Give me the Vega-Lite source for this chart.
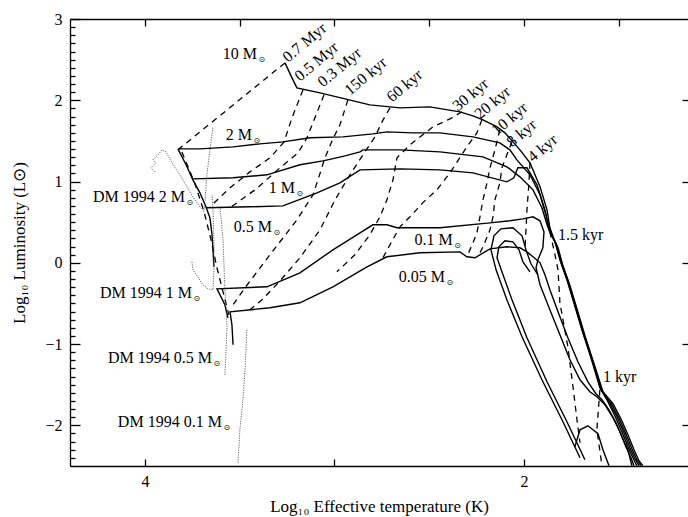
{
"$schema":"https://vega.github.io/schema/vega-lite/v6.json",
"width":618,"height":447,
"autosize":{"type":"none"},
"padding":{"left":70,"top":19,"right":0,"bottom":51},
"background":"white",
"config":{"view":{"stroke":null},"font":"Liberation Serif",
 "axis":{"grid":false,"domainColor":"black","domainWidth":1.3,"tickColor":"black","tickWidth":1.3,"labelFont":"Liberation Serif","labelFontSize":16,"labelColor":"black","titleFont":"Liberation Serif","titleFontSize":17,"titleFontWeight":"normal","titleColor":"black","labelOverlap":false,"labelBound":false,"labelFlush":false}},
"datasets":{
"tracks":[
{"s":"10M","x":3.261,"y":2.460},{"s":"10M","x":3.224,"y":2.276},{"s":"10M","x":3.198,"y":2.153},{"s":"10M","x":3.076,"y":2.091},{"s":"10M","x":2.944,"y":2.017},{"s":"10M","x":2.813,"y":1.944},{"s":"10M","x":2.654,"y":1.907},{"s":"10M","x":2.496,"y":1.919},{"s":"10M","x":2.338,"y":1.858},{"s":"10M","x":2.269,"y":1.808},{"s":"10M","x":2.216,"y":1.759},{"s":"10M","x":2.142,"y":1.673},{"s":"10M","x":2.100,"y":1.599},{"s":"10M","x":2.021,"y":1.390},{"s":"10M","x":1.968,"y":1.230},{"s":"10M","x":1.915,"y":0.935},{"s":"10M","x":1.878,"y":0.652},{"s":"10M","x":1.863,"y":0.431},{"s":"10M","x":1.836,"y":0.258},{"s":"10M","x":1.810,"y":0.037},{"s":"10M","x":1.773,"y":-0.209},{"s":"10M","x":1.741,"y":-0.455},{"s":"10M","x":1.694,"y":-0.824},{"s":"10M","x":1.646,"y":-1.168},{"s":"10M","x":1.599,"y":-1.537},{"s":"10M","x":1.562,"y":-1.685},{"s":"10M","x":1.520,"y":-1.882},{"s":"10M","x":1.483,"y":-2.079},{"s":"10M","x":1.451,"y":-2.263},{"s":"10M","x":1.425,"y":-2.398},{"s":"10M","x":1.404,"y":-2.497},
{"s":"2M","x":3.826,"y":1.402},{"s":"2M","x":3.710,"y":1.402},{"s":"2M","x":3.535,"y":1.427},{"s":"2M","x":3.393,"y":1.464},{"s":"2M","x":3.272,"y":1.488},{"s":"2M","x":3.129,"y":1.538},{"s":"2M","x":2.955,"y":1.550},{"s":"2M","x":2.797,"y":1.587},{"s":"2M","x":2.723,"y":1.611},{"s":"2M","x":2.586,"y":1.599},{"s":"2M","x":2.443,"y":1.599},{"s":"2M","x":2.269,"y":1.550},{"s":"2M","x":2.127,"y":1.476},{"s":"2M","x":2.074,"y":1.390},{"s":"2M","x":2.037,"y":1.267},{"s":"2M","x":1.968,"y":1.083},{"s":"2M","x":1.915,"y":0.837},{"s":"2M","x":1.884,"y":0.591},{"s":"2M","x":1.868,"y":0.406},{"s":"2M","x":1.831,"y":0.234},{"s":"2M","x":1.805,"y":0.012},{"s":"2M","x":1.768,"y":-0.234},{"s":"2M","x":1.736,"y":-0.480},{"s":"2M","x":1.689,"y":-0.849},{"s":"2M","x":1.641,"y":-1.193},{"s":"2M","x":1.593,"y":-1.562},{"s":"2M","x":1.551,"y":-1.710},{"s":"2M","x":1.509,"y":-1.894},{"s":"2M","x":1.472,"y":-2.091},{"s":"2M","x":1.441,"y":-2.275},{"s":"2M","x":1.414,"y":-2.411},{"s":"2M","x":1.393,"y":-2.497},
{"s":"1M","x":3.747,"y":1.033},{"s":"1M","x":3.535,"y":1.046},{"s":"1M","x":3.356,"y":1.083},{"s":"1M","x":3.182,"y":1.206},{"s":"1M","x":3.060,"y":1.255},{"s":"1M","x":2.944,"y":1.316},{"s":"1M","x":2.865,"y":1.365},{"s":"1M","x":2.849,"y":1.390},{"s":"1M","x":2.654,"y":1.390},{"s":"1M","x":2.443,"y":1.365},{"s":"1M","x":2.216,"y":1.304},{"s":"1M","x":2.090,"y":1.181},{"s":"1M","x":2.021,"y":1.058},{"s":"1M","x":1.952,"y":0.898},{"s":"1M","x":1.905,"y":0.677},{"s":"1M","x":1.878,"y":0.468},{"s":"1M","x":1.863,"y":0.381},{"s":"1M","x":1.826,"y":0.209},{"s":"1M","x":1.799,"y":-0.012},{"s":"1M","x":1.762,"y":-0.258},{"s":"1M","x":1.731,"y":-0.504},{"s":"1M","x":1.683,"y":-0.873},{"s":"1M","x":1.636,"y":-1.218},{"s":"1M","x":1.588,"y":-1.574},{"s":"1M","x":1.541,"y":-1.722},{"s":"1M","x":1.499,"y":-1.906},{"s":"1M","x":1.462,"y":-2.103},{"s":"1M","x":1.430,"y":-2.288},{"s":"1M","x":1.404,"y":-2.423},{"s":"1M","x":1.383,"y":-2.497},
{"s":"05M","x":3.673,"y":0.677},{"s":"05M","x":3.446,"y":0.689},{"s":"05M","x":3.272,"y":0.701},{"s":"05M","x":3.092,"y":0.861},{"s":"05M","x":2.971,"y":0.984},{"s":"05M","x":2.865,"y":1.144},{"s":"05M","x":2.654,"y":1.156},{"s":"05M","x":2.443,"y":1.144},{"s":"05M","x":2.269,"y":1.107},{"s":"05M","x":2.090,"y":0.996},{"s":"05M","x":2.053,"y":1.046},{"s":"05M","x":2.032,"y":1.169},{"s":"05M","x":1.984,"y":1.169},{"s":"05M","x":1.931,"y":0.960},{"s":"05M","x":1.889,"y":0.652},{"s":"05M","x":1.868,"y":0.431},{"s":"05M","x":1.857,"y":0.357},{"s":"05M","x":1.820,"y":0.185},{"s":"05M","x":1.794,"y":-0.037},{"s":"05M","x":1.757,"y":-0.283},{"s":"05M","x":1.725,"y":-0.529},{"s":"05M","x":1.678,"y":-0.898},{"s":"05M","x":1.630,"y":-1.242},{"s":"05M","x":1.583,"y":-1.587},{"s":"05M","x":1.530,"y":-1.734},{"s":"05M","x":1.488,"y":-1.919},{"s":"05M","x":1.451,"y":-2.116},{"s":"05M","x":1.419,"y":-2.300},{"s":"05M","x":1.393,"y":-2.435},{"s":"05M","x":1.372,"y":-2.497},
{"s":"edge","x":3.826,"y":1.402},{"s":"edge","x":3.783,"y":1.206},{"s":"edge","x":3.747,"y":1.021},{"s":"edge","x":3.710,"y":0.861},{"s":"edge","x":3.678,"y":0.689},{"s":"edge","x":3.657,"y":0.554},{"s":"edge","x":3.646,"y":0.345},{"s":"edge","x":3.641,"y":0.160},{"s":"edge","x":3.636,"y":-0.049},
{"s":"01M","x":3.562,"y":-0.677},{"s":"01M","x":3.578,"y":-0.516},{"s":"01M","x":3.620,"y":-0.320},{"s":"01M","x":3.356,"y":-0.295},{"s":"01M","x":3.182,"y":-0.123},{"s":"01M","x":3.008,"y":0.160},{"s":"01M","x":2.865,"y":0.369},{"s":"01M","x":2.797,"y":0.468},{"s":"01M","x":2.723,"y":0.468},{"s":"01M","x":2.670,"y":0.431},{"s":"01M","x":2.443,"y":0.431},{"s":"01M","x":2.179,"y":0.492},{"s":"01M","x":2.074,"y":0.517},{"s":"01M","x":2.005,"y":0.541},{"s":"01M","x":1.952,"y":0.566},{"s":"01M","x":1.915,"y":0.517},{"s":"01M","x":1.894,"y":0.381},{"s":"01M","x":1.900,"y":0.185},{"s":"01M","x":1.926,"y":0.037},{"s":"01M","x":1.936,"y":-0.061},{"s":"01M","x":1.915,"y":-0.270},{"s":"01M","x":1.863,"y":-0.578},{"s":"01M","x":1.810,"y":-0.886},{"s":"01M","x":1.757,"y":-1.193},{"s":"01M","x":1.704,"y":-1.439},{"s":"01M","x":1.652,"y":-1.587},{"s":"01M","x":1.615,"y":-1.648},{"s":"01M","x":1.572,"y":-1.747},{"s":"01M","x":1.530,"y":-1.906},{"s":"01M","x":1.493,"y":-2.079},{"s":"01M","x":1.462,"y":-2.263},{"s":"01M","x":1.435,"y":-2.398},{"s":"01M","x":1.419,"y":-2.497},
{"s":"005M","x":3.535,"y":-1.009},{"s":"005M","x":3.541,"y":-0.763},{"s":"005M","x":3.551,"y":-0.603},{"s":"005M","x":3.340,"y":-0.553},{"s":"005M","x":3.182,"y":-0.492},{"s":"005M","x":3.008,"y":-0.295},{"s":"005M","x":2.828,"y":-0.049},{"s":"005M","x":2.723,"y":0.074},{"s":"005M","x":2.549,"y":0.123},{"s":"005M","x":2.338,"y":0.135},{"s":"005M","x":2.301,"y":0.074},{"s":"005M","x":2.258,"y":0.062},{"s":"005M","x":2.179,"y":0.172},{"s":"005M","x":2.090,"y":0.197},{"s":"005M","x":2.021,"y":0.185},{"s":"005M","x":1.984,"y":0.135},{"s":"005M","x":1.952,"y":0.074},{"s":"005M","x":1.915,"y":0.000},{"s":"005M","x":1.889,"y":-0.148},{"s":"005M","x":1.863,"y":-0.332},{"s":"005M","x":1.820,"y":-0.603},{"s":"005M","x":1.768,"y":-0.922},{"s":"005M","x":1.715,"y":-1.218},{"s":"005M","x":1.662,"y":-1.464},{"s":"005M","x":1.620,"y":-1.611},{"s":"005M","x":1.588,"y":-1.685},{"s":"005M","x":1.551,"y":-1.808},{"s":"005M","x":1.514,"y":-1.968},{"s":"005M","x":1.483,"y":-2.140},{"s":"005M","x":1.451,"y":-2.300},{"s":"005M","x":1.430,"y":-2.497},
{"s":"LA","x":1.704,"y":-2.398},{"s":"LA","x":1.799,"y":-1.931},{"s":"LA","x":1.905,"y":-1.439},{"s":"LA","x":2.010,"y":-0.910},{"s":"LA","x":2.090,"y":-0.455},{"s":"LA","x":2.147,"y":-0.086},{"s":"LA","x":2.174,"y":0.160},{"s":"LA","x":2.158,"y":0.332},{"s":"LA","x":2.121,"y":0.418},{"s":"LA","x":2.058,"y":0.431},{"s":"LA","x":2.010,"y":0.332},{"s":"LA","x":1.989,"y":0.160},{"s":"LA","x":1.963,"y":-0.012},{"s":"LA","x":1.926,"y":-0.148},
{"s":"LB","x":1.678,"y":-2.423},{"s":"LB","x":1.773,"y":-1.956},{"s":"LB","x":1.878,"y":-1.464},{"s":"LB","x":1.984,"y":-0.922},{"s":"LB","x":2.063,"y":-0.455},{"s":"LB","x":2.116,"y":-0.111},{"s":"LB","x":2.142,"y":0.062},{"s":"LB","x":2.132,"y":0.197},{"s":"LB","x":2.100,"y":0.271},{"s":"LB","x":2.058,"y":0.258},{"s":"LB","x":2.026,"y":0.160},{"s":"LB","x":2.005,"y":0.012},{"s":"LB","x":1.968,"y":-0.111},
{"s":"kink","x":1.731,"y":-2.263},{"s":"kink","x":1.704,"y":-2.054},{"s":"kink","x":1.662,"y":-2.005},{"s":"kink","x":1.609,"y":-2.103},{"s":"kink","x":1.583,"y":-2.300},{"s":"kink","x":1.551,"y":-2.497}
],
"iso":[
{"s":"0.7Myr","x":3.261,"y":2.460},{"s":"0.7Myr","x":3.820,"y":1.402},
{"s":"left","x":3.805,"y":1.365},{"s":"left","x":3.736,"y":0.972},{"s":"left","x":3.688,"y":0.627},{"s":"left","x":3.651,"y":0.283},{"s":"left","x":3.620,"y":-0.061},{"s":"left","x":3.588,"y":-0.357},{"s":"left","x":3.557,"y":-0.640},
{"s":"0.5Myr","x":3.166,"y":2.128},{"s":"0.5Myr","x":3.224,"y":1.784},{"s":"0.5Myr","x":3.266,"y":1.488},{"s":"0.5Myr","x":3.340,"y":1.292},{"s":"0.5Myr","x":3.446,"y":1.119},{"s":"0.5Myr","x":3.551,"y":0.923},{"s":"0.5Myr","x":3.657,"y":0.689},
{"s":"0.3Myr","x":3.055,"y":2.067},{"s":"0.3Myr","x":3.103,"y":1.784},{"s":"0.3Myr","x":3.145,"y":1.538},{"s":"0.3Myr","x":3.192,"y":1.353},{"s":"0.3Myr","x":3.287,"y":1.169},{"s":"0.3Myr","x":3.419,"y":0.898},{"s":"0.3Myr","x":3.551,"y":0.677},
{"s":"150k","x":2.929,"y":2.005},{"s":"150k","x":2.971,"y":1.698},{"s":"150k","x":3.008,"y":1.525},{"s":"150k","x":3.050,"y":1.292},{"s":"150k","x":3.087,"y":1.021},{"s":"150k","x":3.113,"y":0.837},{"s":"150k","x":3.198,"y":0.529},{"s":"150k","x":3.340,"y":0.099},{"s":"150k","x":3.472,"y":-0.307},{"s":"150k","x":3.535,"y":-0.516},
{"s":"60k","x":2.707,"y":1.907},{"s":"60k","x":2.749,"y":1.734},{"s":"60k","x":2.786,"y":1.550},{"s":"60k","x":2.839,"y":1.365},{"s":"60k","x":2.918,"y":1.083},{"s":"60k","x":2.997,"y":0.775},{"s":"60k","x":3.076,"y":0.406},{"s":"60k","x":3.182,"y":0.062},{"s":"60k","x":3.287,"y":-0.221},{"s":"60k","x":3.382,"y":-0.455},{"s":"60k","x":3.446,"y":-0.578},
{"s":"30k","x":2.327,"y":1.858},{"s":"30k","x":2.390,"y":1.771},{"s":"30k","x":2.480,"y":1.673},{"s":"30k","x":2.601,"y":1.452},{"s":"30k","x":2.670,"y":1.292},{"s":"30k","x":2.691,"y":1.021},{"s":"30k","x":2.723,"y":0.775},{"s":"30k","x":2.760,"y":0.566},{"s":"30k","x":2.813,"y":0.345},{"s":"30k","x":2.892,"y":0.099},{"s":"30k","x":2.987,"y":-0.111},
{"s":"20k","x":2.222,"y":1.759},{"s":"20k","x":2.248,"y":1.599},{"s":"20k","x":2.301,"y":1.427},{"s":"20k","x":2.390,"y":1.107},{"s":"20k","x":2.459,"y":0.898},{"s":"20k","x":2.533,"y":0.741},{"s":"20k","x":2.601,"y":0.566},{"s":"20k","x":2.654,"y":0.443},{"s":"20k","x":2.707,"y":0.222},{"s":"20k","x":2.744,"y":0.062},
{"s":"10k","x":2.127,"y":1.636},{"s":"10k","x":2.153,"y":1.390},{"s":"10k","x":2.179,"y":1.169},{"s":"10k","x":2.195,"y":0.984},{"s":"10k","x":2.216,"y":0.775},{"s":"10k","x":2.232,"y":0.566},{"s":"10k","x":2.248,"y":0.369},{"s":"10k","x":2.269,"y":0.246},{"s":"10k","x":2.301,"y":0.074},
{"s":"8k","x":2.063,"y":1.488},{"s":"8k","x":2.090,"y":1.329},{"s":"8k","x":2.116,"y":1.169},{"s":"8k","x":2.127,"y":0.984},{"s":"8k","x":2.153,"y":0.775},{"s":"8k","x":2.163,"y":0.566},{"s":"8k","x":2.179,"y":0.406},{"s":"8k","x":2.216,"y":0.197},{"s":"8k","x":2.232,"y":0.123},
{"s":"4k","x":1.968,"y":1.230},{"s":"4k","x":1.974,"y":0.960},{"s":"4k","x":1.984,"y":0.652},{"s":"4k","x":1.989,"y":0.406},{"s":"4k","x":1.995,"y":0.160},
{"s":"1.5k","x":1.863,"y":0.381},{"s":"1.5k","x":1.836,"y":0.099},{"s":"1.5k","x":1.820,"y":-0.086},{"s":"1.5k","x":1.810,"y":-0.492},{"s":"1.5k","x":1.768,"y":-1.033},{"s":"1.5k","x":1.741,"y":-1.525},{"s":"1.5k","x":1.720,"y":-1.931},{"s":"1.5k","x":1.704,"y":-2.214},
{"s":"1k","x":1.599,"y":-1.562},{"s":"1k","x":1.615,"y":-2.054},{"s":"1k","x":1.588,"y":-2.497}
],
"dm":[
{"s":"DM2","x":3.947,"y":1.119},{"s":"DM2","x":3.968,"y":1.169},{"s":"DM2","x":3.942,"y":1.230},{"s":"DM2","x":3.958,"y":1.267},{"s":"DM2","x":3.931,"y":1.329},{"s":"DM2","x":3.910,"y":1.390},{"s":"DM2","x":3.889,"y":1.365},{"s":"DM2","x":3.857,"y":1.230},{"s":"DM2","x":3.799,"y":1.021},{"s":"DM2","x":3.747,"y":0.812},{"s":"DM2","x":3.710,"y":0.689},{"s":"DM2","x":3.688,"y":0.627},{"s":"DM2","x":3.683,"y":0.775},{"s":"DM2","x":3.673,"y":1.083},{"s":"DM2","x":3.657,"y":1.390},{"s":"DM2","x":3.641,"y":1.661},
{"s":"DM1","x":3.752,"y":0.012},{"s":"DM1","x":3.747,"y":-0.086},{"s":"DM1","x":3.725,"y":-0.160},{"s":"DM1","x":3.694,"y":-0.270},{"s":"DM1","x":3.667,"y":-0.320},{"s":"DM1","x":3.641,"y":-0.332},{"s":"DM1","x":3.636,"y":-0.086},{"s":"DM1","x":3.636,"y":0.283},{"s":"DM1","x":3.641,"y":0.652},{"s":"DM1","x":3.646,"y":0.837},
{"s":"DM05","x":3.578,"y":-1.378},{"s":"DM05","x":3.572,"y":-1.070},{"s":"DM05","x":3.567,"y":-0.787},{"s":"DM05","x":3.578,"y":-0.332},{"s":"DM05","x":3.588,"y":0.283},{"s":"DM05","x":3.604,"y":0.689},
{"s":"DM01","x":3.509,"y":-2.460},{"s":"DM01","x":3.499,"y":-2.054},{"s":"DM01","x":3.483,"y":-1.685},{"s":"DM01","x":3.472,"y":-1.316},{"s":"DM01","x":3.462,"y":-0.824}
],
"mlabels":[
{"t":"10 M","x":3.409,"y":2.509},{"t":"2 M","x":3.435,"y":1.513},{"t":"1 M","x":3.208,"y":0.861},{"t":"0.5 M","x":3.330,"y":0.381},{"t":"0.1 M","x":2.375,"y":0.222},{"t":"0.05 M","x":2.417,"y":-0.234},{"t":"DM 1994 2 M","x":3.789,"y":0.751},{"t":"DM 1994 1 M","x":3.752,"y":-0.430},{"t":"DM 1994 0.5 M","x":3.646,"y":-1.230},{"t":"DM 1994 0.1 M","x":3.594,"y":-2.017}
],
"ages":[
{"t":"0.7 Myr","x":3.245,"y":2.460},{"t":"0.5 Myr","x":3.182,"y":2.226},{"t":"0.3 Myr","x":3.060,"y":2.153},{"t":"150 kyr","x":2.918,"y":2.054},{"t":"60 kyr","x":2.696,"y":1.968},{"t":"30 kyr","x":2.348,"y":1.858},{"t":"20 kyr","x":2.232,"y":1.759},{"t":"10 kyr","x":2.142,"y":1.562},{"t":"8 kyr","x":2.063,"y":1.415},{"t":"4 kyr","x":1.952,"y":1.230}
],
"notes":[
{"t":"1.5 kyr","x":1.820,"y":0.283},{"t":"1 kyr","x":1.583,"y":-1.464}
]
},
"layer":[
{"data":{"name":"tracks"},
 "mark":{"type":"line","color":"black","strokeWidth":1.4,"clip":true},
 "encoding":{
  "x":{"field":"x","type":"quantitative","scale":{"domain":[4.3956,1.134],"nice":false,"zero":false},
   "axis":{"orient":"bottom","values":[4,3.5,3,2.5,2,1.5],"format":"d","labelOverlap":false,"labelExpr":"datum.value == 4 || datum.value == 2 ? datum.label : ''","tickSize":-7,"labelPadding":14,"title":"Log₁₀ Effective temperature (K)","titlePadding":9}},
  "y":{"field":"y","type":"quantitative","scale":{"domain":[-2.5,3],"nice":false,"zero":false},
   "axis":{"orient":"left","values":[-2,-1,0,1,2,3],"format":"d","labelOverlap":false,"tickSize":-10,"labelPadding":18,"title":"Log₁₀ Luminosity (L⊙)","titlePadding":16}},
  "detail":{"field":"s"},
  "order":{"value":null}}},
{"data":{"name":"iso"},
 "mark":{"type":"line","color":"black","strokeWidth":1.3,"strokeDash":[6,5],"clip":true},
 "encoding":{
  "x":{"field":"x","type":"quantitative","scale":{"domain":[4.3956,1.134],"nice":false,"zero":false},
   "axis":{"orient":"top","values":[4,3.5,3,2.5,2,1.5],"labels":false,"labelOverlap":false,"tickSize":-7,"title":null}},
  "y":{"field":"y","type":"quantitative","scale":{"domain":[-2.5,3],"nice":false,"zero":false},
   "axis":{"orient":"right","values":[-2,-1,0,1,2],"labels":false,"labelOverlap":false,"tickSize":-6,"domain":false,"title":null}},
  "detail":{"field":"s"},
  "order":{"value":null}}},
{"data":{"name":"dm"},
 "mark":{"type":"line","color":"#555555","strokeWidth":0.9,"strokeDash":[1.2,1.2],"clip":true},
 "encoding":{
  "x":{"field":"x","type":"quantitative","scale":{"domain":[4.3956,1.134],"nice":false,"zero":false},"axis":null},
  "y":{"field":"y","type":"quantitative","scale":{"domain":[-2.5,3],"nice":false,"zero":false},
   "axis":{"orient":"left","values":[-2.4,-2.3,-2.2,-2.1,-1.9,-1.8,-1.7,-1.6,-1.5,-1.4,-1.3,-1.2,-1.1,-0.9,-0.8,-0.7,-0.6,-0.5,-0.4,-0.3,-0.2,-0.1,0.1,0.2,0.3,0.4,0.5,0.6,0.7,0.8,0.9,1.1,1.2,1.3,1.4,1.5,1.6,1.7,1.8,1.9,2.1,2.2,2.3,2.4,2.5,2.6,2.7,2.8,2.9],"labels":false,"labelOverlap":false,"tickSize":-5,"domain":false,"title":null}},
  "detail":{"field":"s"},
  "order":{"value":null}}},
{"data":{"name":"mlabels"},
 "mark":{"type":"text","align":"right","baseline":"alphabetic","font":"Liberation Serif","fontSize":16,"color":"black"},
 "encoding":{
  "x":{"field":"x","type":"quantitative","axis":null},
  "y":{"field":"y","type":"quantitative","axis":null},
  "text":{"field":"t"}}},
{"data":{"name":"mlabels"},
 "mark":{"type":"text","align":"left","baseline":"alphabetic","font":"DejaVu Sans","fontSize":8,"dx":1.5,"dy":3,"color":"black"},
 "encoding":{
  "x":{"field":"x","type":"quantitative","axis":null},
  "y":{"field":"y","type":"quantitative","axis":null},
  "text":{"value":"⊙"}}},
{"data":{"name":"ages"},
 "mark":{"type":"text","align":"left","baseline":"alphabetic","angle":-40,"font":"Liberation Serif","fontSize":16,"color":"black"},
 "encoding":{
  "x":{"field":"x","type":"quantitative","axis":null},
  "y":{"field":"y","type":"quantitative","axis":null},
  "text":{"field":"t"}}},
{"data":{"name":"notes"},
 "mark":{"type":"text","align":"left","baseline":"alphabetic","font":"Liberation Serif","fontSize":16,"color":"black"},
 "encoding":{
  "x":{"field":"x","type":"quantitative","axis":null},
  "y":{"field":"y","type":"quantitative","axis":null},
  "text":{"field":"t"}}}
],
"resolve":{"axis":{"x":"independent","y":"independent"}}
}
